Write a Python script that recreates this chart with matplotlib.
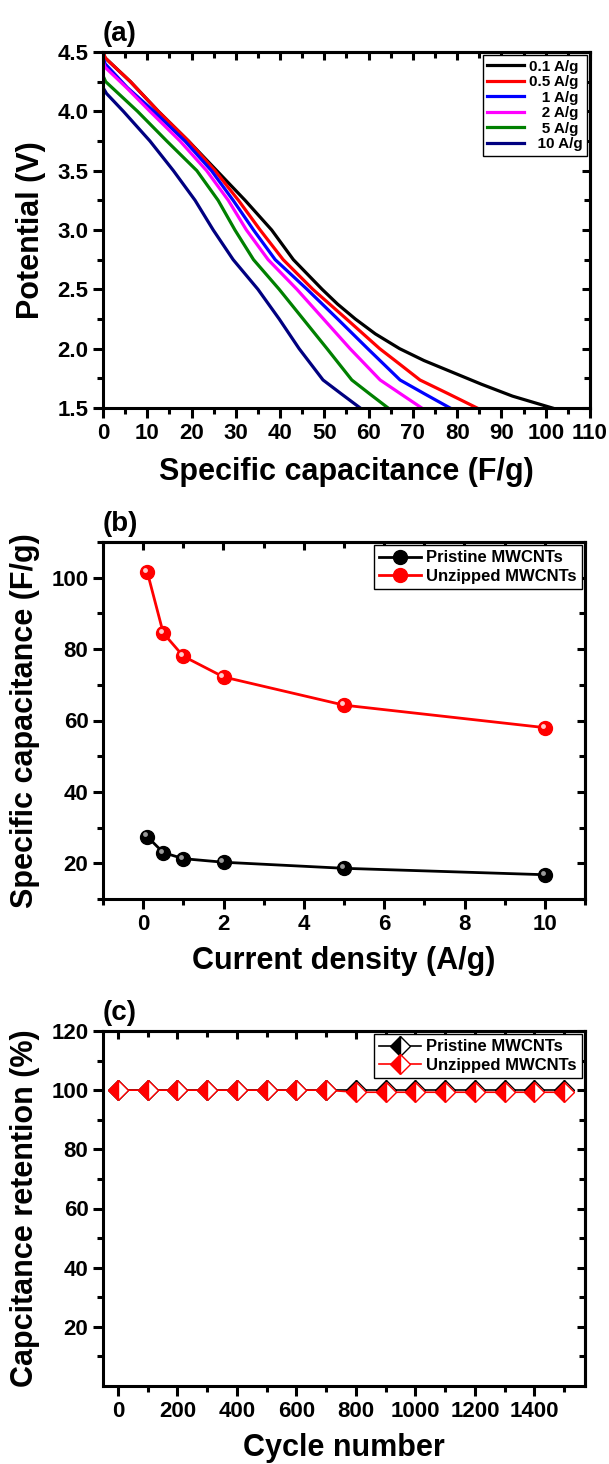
import matplotlib
matplotlib.use('Agg')
import matplotlib.pyplot as plt
import matplotlib.transforms as mtransforms
from matplotlib.ticker import MultipleLocator, FixedLocator
import numpy as np

plt.rcParams['font.family'] = ['Liberation Sans', 'DejaVu Sans']
plt.rcParams['font.weight'] = 'bold'
plt.rcParams['axes.labelweight'] = 'bold'

# ---- panel (a): discharge curves, capacitance (F/g) vs potential (V)
rate_colors = ['black', 'red', 'blue', 'magenta', 'green', 'navy']
labels_a = ['0.1 A/g', '0.5 A/g', '   1 A/g', '   2 A/g', '   5 A/g', '  10 A/g']
cap_01 = [0, 0.5, 6.2, 12.5, 19.3, 25.7, 32.1, 38.1, 43, 49.5, 53, 57, 61.5, 67, 72.5, 79, 85.5, 92.5, 101.5]
pot_01 = [4.5, 4.45, 4.25, 4.0, 3.75, 3.5, 3.25, 3.0, 2.75, 2.5, 2.375, 2.25, 2.125, 2.0, 1.9, 1.8, 1.7,
          1.6, 1.5]
cap_05 = [0, 0.5, 6.2, 12.5, 19.3, 25.3, 30.6, 35.5, 40.7, 47.4, 55, 62.5, 67, 71.6, 78, 84.5]
pot_05 = [4.5, 4.45, 4.25, 4.0, 3.75, 3.5, 3.25, 3.0, 2.75, 2.5, 2.25, 2.0, 1.87, 1.736, 1.62, 1.5]
cap_1 = [0, 0.5, 5.5, 11.5, 18.5, 24.5, 29.4, 34, 38.9, 46.1, 53, 59.8, 67.1, 72.6, 78.4]
pot_1 = [4.45, 4.4, 4.2, 4.0, 3.75, 3.5, 3.25, 3.0, 2.75, 2.5, 2.25, 2.0, 1.736, 1.62, 1.5]
cap_2 = [0, 0.5, 5.3, 10.6, 17.4, 23.4, 28.3, 32.4, 37.3, 43.8, 49.8, 55.8, 62.6, 67.2, 72]
pot_2 = [4.42, 4.37, 4.2, 4.0, 3.75, 3.5, 3.25, 3.0, 2.75, 2.5, 2.25, 2.0, 1.736, 1.62, 1.5]
cap_5 = [0, 0.6, 7.8, 14.4, 21.2, 26, 29.8, 34, 39.8, 45.2, 50.6, 56.2, 60.2, 64.4]
pot_5 = [4.3, 4.25, 4.0, 3.75, 3.5, 3.25, 3.0, 2.75, 2.5, 2.25, 2.0, 1.736, 1.62, 1.5]
cap_10 = [0, 0.8, 4.6, 10.6, 15.9, 20.8, 24.9, 29.4, 35, 39.8, 44.3, 49.7, 53.8, 58.1]
pot_10 = [4.2, 4.15, 4.0, 3.75, 3.5, 3.25, 3.0, 2.75, 2.5, 2.25, 2.0, 1.736, 1.62, 1.5]

# ---- panel (b): rate capability
current = [0.1, 0.5, 1, 2, 5, 10]
cap_pristine = [27.5, 23.0, 21.3, 20.3, 18.6, 16.8]
cap_unzipped = [101.7, 84.5, 78.0, 72.2, 64.3, 58.0]

# ---- panel (c): cycling retention
cycles = [0, 100, 200, 300, 400, 500, 600, 700, 800, 900, 1000, 1100, 1200, 1300, 1400, 1500]
ret_pristine = [100, 100, 100, 100, 100, 100, 100, 100, 100, 100, 100, 100, 100, 100, 100, 100]
ret_unzipped = [100, 100, 100, 100, 100, 100, 100, 100, 99.3, 99.3, 99.3, 99.3, 99.3, 99.3, 99.3, 99.3]

W, H = 609, 1464
fig = plt.figure(figsize=(W / 100, H / 100), dpi=100)


def box(l, r, t, b):
    return [l / W, 1 - b / H, (r - l) / W, (b - t) / H]


def style(ax):
    for s in ax.spines.values():
        s.set_linewidth(2.2)
    ax.tick_params(which='both', direction='out', width=2.2, labelsize=16)
    ax.tick_params(which='major', length=7)
    ax.tick_params(which='minor', length=4)
    for lab in ax.get_xticklabels() + ax.get_yticklabels():
        lab.set_fontweight('bold')
    # inward ticks on top and right, no labels
    top = ax.secondary_xaxis('top')
    right = ax.secondary_yaxis('right')
    top.xaxis.set_major_locator(ax.xaxis.get_major_locator())
    top.xaxis.set_minor_locator(ax.xaxis.get_minor_locator())
    right.yaxis.set_major_locator(ax.yaxis.get_major_locator())
    right.yaxis.set_minor_locator(ax.yaxis.get_minor_locator())
    for sec in (top, right):
        sec.tick_params(which='both', direction='in', width=2.2, labeltop=False,
                        labelright=False, labelleft=False, labelbottom=False)
        sec.tick_params(which='major', length=6)
        sec.tick_params(which='minor', length=4)
        for s in sec.spines.values():
            s.set_linewidth(2.2)


def legend(ax, **kw):
    leg = ax.legend(loc='upper right', fancybox=False, edgecolor='black', framealpha=1,
                    borderaxespad=0.2, prop={'weight': 'bold', 'size': kw.pop('size', 12)}, **kw)
    leg.get_frame().set_linewidth(1.0)
    return leg


# (a)
ax1 = fig.add_axes(box(103, 590, 52, 408))
caps = [cap_01, cap_05, cap_1, cap_2, cap_5, cap_10]
pots = [pot_01, pot_05, pot_1, pot_2, pot_5, pot_10]
for c, p, col, lab in zip(caps, pots, rate_colors, labels_a):
    ax1.plot(c, p, color=col, lw=2.3, label=lab, solid_joinstyle='round')
ax1.set_xlim(0, 110)
ax1.set_ylim(1.5, 4.5)
ax1.xaxis.set_major_locator(MultipleLocator(10))
ax1.xaxis.set_minor_locator(MultipleLocator(5))
ax1.yaxis.set_major_locator(MultipleLocator(0.5))
ax1.yaxis.set_minor_locator(MultipleLocator(0.25))
ax1.yaxis.set_major_formatter(plt.FormatStrFormatter('%.1f'))
ax1.set_xlabel('Specific capacitance (F/g)', fontsize=22, labelpad=10)
ax1.set_ylabel('Potential (V)', fontsize=22, labelpad=8)
style(ax1)
legend(ax1, size=11, handlelength=2.4, handletextpad=0.3, labelspacing=0.1,
       borderpad=0.3)
ax1.text(0, 1.015, '(a)', transform=ax1.transAxes, fontsize=20, fontweight='bold',
         ha='left', va='bottom')

# (b)
ax2 = fig.add_axes(box(103, 585, 542, 899))
hl = mtransforms.offset_copy(ax2.transData, fig=fig, x=-1.5, y=1.5, units='points')
for y, col, lab, shade in [(cap_pristine, 'black', 'Pristine MWCNTs', '#999999'),
                           (cap_unzipped, 'red', 'Unzipped MWCNTs', '#ffcccc')]:
    ax2.plot(current, y, color=col, lw=2, marker='o', ms=10, mfc=col, mec=col, label=lab)
    ax2.plot(current, y, ls='none', marker='o', ms=3.5, mfc=shade, mec='none',
             transform=hl)
ax2.set_xlim(-1, 11)
ax2.set_ylim(10, 110)
ax2.xaxis.set_major_locator(MultipleLocator(2))
ax2.xaxis.set_minor_locator(MultipleLocator(1))
ax2.yaxis.set_major_locator(FixedLocator([20, 40, 60, 80, 100]))
ax2.yaxis.set_minor_locator(FixedLocator([10, 30, 50, 70, 90, 110]))
ax2.set_xlabel('Current density (A/g)', fontsize=22, labelpad=8)
ax2.set_ylabel('Specific capacitance (F/g)', fontsize=22, labelpad=8)
style(ax2)
legend(ax2, handlelength=2.5, handletextpad=0.3, labelspacing=0.2, borderpad=0.3)
ax2.text(0, 1.015, '(b)', transform=ax2.transAxes, fontsize=20, fontweight='bold',
         ha='left', va='bottom')

# (c)
ax3 = fig.add_axes(box(103, 585, 1031, 1386))
ax3.plot(cycles, ret_pristine, color='black', lw=1.2, marker='D', ms=10,
         fillstyle='left', mfc='black', mfcalt='white', mec='black', mew=1,
         label='Pristine MWCNTs')
ax3.plot(cycles, ret_unzipped, color='red', lw=1.2, marker='D', ms=10,
         fillstyle='left', mfc='red', mfcalt='white', mec='red', mew=1,
         label='Unzipped MWCNTs')
ax3.set_xlim(-50, 1570)
ax3.set_ylim(0, 120)
ax3.xaxis.set_major_locator(MultipleLocator(200))
ax3.xaxis.set_minor_locator(MultipleLocator(100))
ax3.yaxis.set_major_locator(FixedLocator([20, 40, 60, 80, 100, 120]))
ax3.yaxis.set_minor_locator(FixedLocator([10, 30, 50, 70, 90, 110]))
ax3.set_xlabel('Cycle number', fontsize=22, labelpad=8)
ax3.set_ylabel('Capcitance retention (%)', fontsize=22, labelpad=8)
style(ax3)
legend(ax3, handlelength=2.5, handletextpad=0.3, labelspacing=0.2, borderpad=0.3)
ax3.text(0, 1.015, '(c)', transform=ax3.transAxes, fontsize=20, fontweight='bold',
         ha='left', va='bottom')

fig.savefig('out.png', dpi=100)
